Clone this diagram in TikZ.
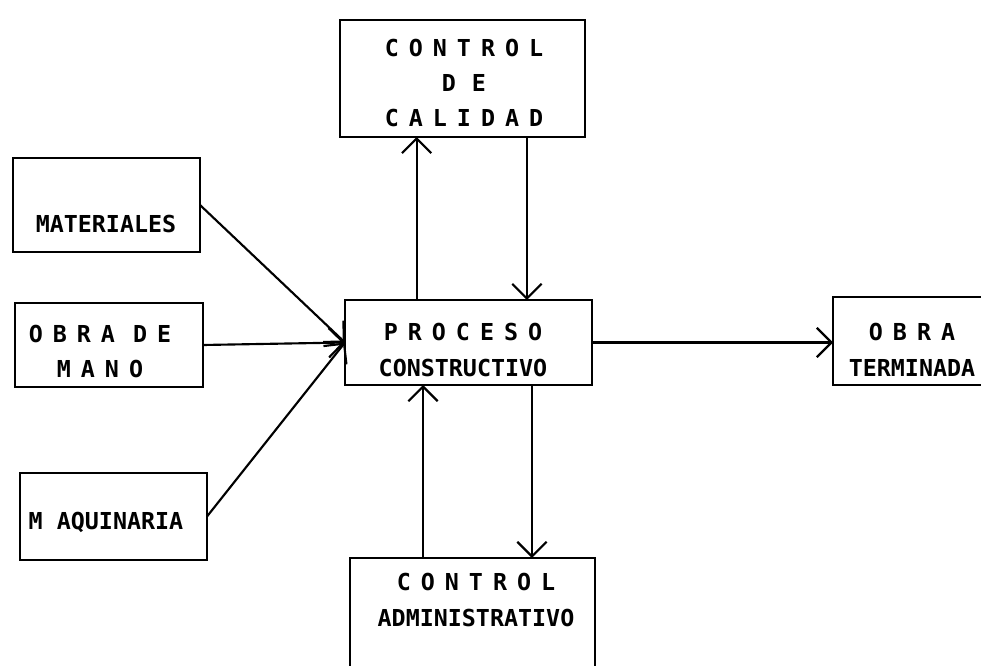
\documentclass[tikz,border=0pt]{standalone}
\usepackage{fontspec}
\newfontfamily\typfont{DejaVu Sans Mono}
\usetikzlibrary{arrows.meta,calc}
\newcommand\gp{\hspace{7.5pt}}
\begin{document}
\begin{tikzpicture}[x=0.75pt,y=-0.75pt,
  box/.style={draw, line width=1.8pt, inner sep=0pt, outer sep=0pt},
  lbl/.style={font=\typfont\bfseries\fontsize{17.5}{26.5}\selectfont, align=center, inner sep=0pt},
  arr/.style={line width=1.6pt, -{Straight Barb[length=11pt,width=22pt,line width=1.6pt]}}]
\useasboundingbox (0,0) rectangle (981,666);
\clip (0,0) rectangle (981,666);
% boxes
\node[box, minimum width=245*0.75pt, minimum height=117*0.75pt] (cc) at (462.5,78.5) {};
\node[box, minimum width=187*0.75pt, minimum height=94*0.75pt] (mat) at (106.5,205) {};
\node[box, minimum width=188*0.75pt, minimum height=84*0.75pt] (mano) at (109,345) {};
\node[box, minimum width=187*0.75pt, minimum height=87*0.75pt] (maq) at (113.5,516.5) {};
\node[box, minimum width=247*0.75pt, minimum height=85*0.75pt] (pc) at (468.5,342.5) {};
\node[box, minimum width=159*0.75pt, minimum height=88*0.75pt] (ot) at (912.5,341) {};
\node[box, minimum width=245*0.75pt, minimum height=120*0.75pt] (ca) at (472.5,618) {};
% texts
\node[lbl] (cc-t) at (464,83) {C\gp O\gp N\gp T\gp R\gp O\gp L\\D\hspace{12pt}E\\C\gp A\gp L\gp I\gp D\gp A\gp D};
\node[lbl] (mat-t) at (106,224) {MATERIALES};
\node[lbl] (mano-t) at (100,351.5) {O\gp B\gp R\gp A\hspace{13.5pt}D\gp E\\M\gp A\gp N\gp O};
\node[lbl] (maq-t) at (106,522) {M AQUINARIA};
\node[lbl] (pc-t) at (463,350) {P\gp R\gp O\gp C\gp E\gp S\gp O\\CONSTRUCTIVO};
\node[lbl] (ot-t) at (912,350) {O\gp B\gp R\gp A\\TERMINADA};
\node[lbl] (ca-t) at (476,600) {C\gp O\gp N\gp T\gp R\gp O\gp L\\ADMINISTRATIVO};
% connectors
\draw[arr] (mat.east) -- (pc.west);
\draw[arr] (mano.east) -- (pc.west);
\draw[arr] (maq.east) -- (pc.west);
\draw[arr] (pc.east) -- (pc.east -| ot.west);
\coordinate (u1) at ($(pc.north west)!0.29!(pc.north east)$);
\coordinate (d1) at ($(cc.south west)!0.763!(cc.south east)$);
\coordinate (u2) at ($(ca.north west)!0.298!(ca.north east)$);
\coordinate (d2) at ($(pc.south west)!0.757!(pc.south east)$);
\draw[arr] (u1) -- (u1 |- cc.south);
\draw[arr] (d1) -- (d1 |- pc.north);
\draw[arr] (u2) -- (u2 |- pc.south);
\draw[arr] (d2) -- (d2 |- ca.north);
\end{tikzpicture}
\end{document}
